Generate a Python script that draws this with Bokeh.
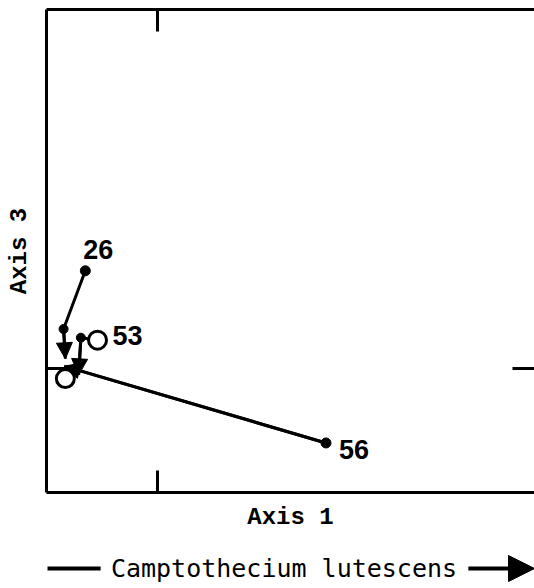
from bokeh.plotting import figure
from bokeh.models import (Arrow, NormalHead, LinearAxis, FixedTicker, Range1d,
                          ColumnDataSource)
from bokeh.layouts import column
from bokeh.core.properties import value
from bokeh.embed import file_html
from bokeh.resources import INLINE

# ---- data (ordination scores) ----
axis1_ticks = [100]
axis3_ticks = [100]

site_names = ["26", "53", "56"]
s26_x = [35, 15.4, 17]
s26_y = [179, 132, 108]
s53_x = [46, 31, 29]
s53_y = [123, 125, 95]
s56_x = [252, 16]
s56_y = [40, 102]

start_x = [35, 46, 252]
start_y = [179, 123, 40]
start_filled = [True, False, True]

end_open_x = [17]
end_open_y = [92]

# ---- main figure ----
p = figure(width=534, height=540, output_backend="svg", toolbar_location=None,
           x_range=Range1d(0, 440), y_range=Range1d(0, 390),
           min_border_left=46, min_border_right=0, min_border_top=9,
           min_border_bottom=48, x_axis_location=None, y_axis_location=None)
p.grid.visible = False
p.outline_line_color = None
p.background_fill_color = "white"
p.border_fill_color = "white"


def style_axis(ax, ticks, label=None, line=True):
    ax.ticker = FixedTicker(ticks=ticks)
    ax.axis_line_color = "black" if line else None
    ax.axis_line_width = 3
    ax.major_tick_in = 22
    ax.major_tick_out = 0
    ax.major_tick_line_width = 3
    ax.major_tick_line_color = "black"
    ax.minor_tick_line_color = None
    ax.major_label_overrides = {t: "" for t in ticks}
    ax.major_label_standoff = 0
    if label:
        ax.axis_label = label
        ax.axis_label_text_font = "Liberation Mono"
        ax.axis_label_text_font_style = "bold"
        ax.axis_label_text_font_size = "24px"
        ax.axis_label_text_color = "black"


bx = LinearAxis(); style_axis(bx, axis1_ticks, "Axis 1"); bx.axis_label_standoff = 11
p.add_layout(bx, "below")
tx = LinearAxis(); style_axis(tx, axis1_ticks)
p.add_layout(tx, "above")
ly = LinearAxis(); style_axis(ly, axis3_ticks, "Axis 3"); ly.axis_label_standoff = 14
p.add_layout(ly, "left")
ry = LinearAxis(); style_axis(ry, axis3_ticks, line=False)
p.add_layout(ry, "right")

# trajectories
for xs, ys in [(s26_x, s26_y), (s53_x, s53_y), (s56_x, s56_y)]:
    p.line(xs, ys, line_color="black", line_width=3)
    p.add_layout(Arrow(end=NormalHead(size=16, fill_color="black", line_color="black"),
                       x_start=xs[-2], y_start=ys[-2], x_end=xs[-1], y_end=ys[-1],
                       line_color="black", line_width=3))

# bend points
p.scatter([s26_x[1], s53_x[1]], [s26_y[1], s53_y[1]], size=9, color="black")

# start markers
fx = [x for x, f in zip(start_x, start_filled) if f]
fy = [y for y, f in zip(start_y, start_filled) if f]
ox = [x for x, f in zip(start_x, start_filled) if not f]
oy = [y for y, f in zip(start_y, start_filled) if not f]
p.scatter(fx, fy, size=10, color="black")
p.scatter(ox + end_open_x, oy + end_open_y, size=18, fill_color="white",
          line_color="black", line_width=3)

# site labels
lab = ColumnDataSource(dict(x=start_x, y=start_y, t=site_names,
                            xo=[-2, 15, 13], yo=[-12, -5, 7],
                            bl=["bottom", "middle", "middle"]))
p.text(x="x", y="y", text="t", x_offset="xo", y_offset="yo", text_align="left",
       text_baseline="bl", text_font=value("Liberation Sans"),
       text_font_style="bold", text_font_size="27px", text_color="black", source=lab)

# ---- caption figure (x in page pixels; frame aligned with main frame) ----
c = figure(width=534, height=48, output_backend="svg", toolbar_location=None,
           x_range=Range1d(46, 533), y_range=Range1d(0, 48),
           min_border=0, x_axis_location=None, y_axis_location=None)
c.grid.visible = False
c.outline_line_color = None
c.text(x=[283], y=[20], text=["Camptothecium lutescens"], text_align="center",
       text_baseline="middle", text_font=value("DejaVu Sans Mono"),
       text_font_size="25px", text_color="black")
c.line([47, 100], [20, 20], line_color="black", line_width=4)
c.add_layout(Arrow(end=NormalHead(size=26, fill_color="black", line_color="black"),
                   x_start=467, y_start=20, x_end=533, y_end=20,
                   line_color="black", line_width=4))

layout = column(p, c, spacing=0)
open("out.html", "w").write(file_html(layout, INLINE))
